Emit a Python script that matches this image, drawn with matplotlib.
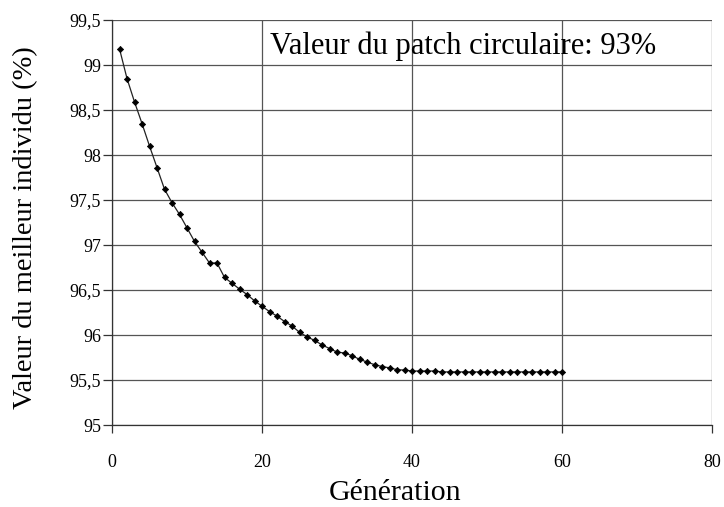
import matplotlib
matplotlib.use("Agg")
import matplotlib.pyplot as plt

generations = list(range(1, 61))
best_values = [
    99.18, 98.85, 98.59, 98.35, 98.10, 97.86, 97.62, 97.47, 97.34, 97.19,
    97.04, 96.92, 96.80, 96.80, 96.64, 96.575, 96.51, 96.45, 96.38, 96.32,
    96.26, 96.21, 96.15, 96.10, 96.03, 95.98, 95.94, 95.89, 95.85, 95.81,
    95.80, 95.77, 95.73, 95.70, 95.67, 95.65, 95.635, 95.615, 95.61, 95.60,
    95.60, 95.60, 95.60, 95.59, 95.59, 95.59, 95.59, 95.59, 95.59, 95.59,
    95.59, 95.59, 95.59, 95.59, 95.59, 95.59, 95.59, 95.59, 95.59, 95.59,
]
x_ticks = [0, 20, 40, 60, 80]
y_ticks = [95, 95.5, 96, 96.5, 97, 97.5, 98, 98.5, 99, 99.5]
y_tick_labels = ["95", "95,5", "96", "96,5", "97", "97,5", "98", "98,5", "99", "99,5"]

plt.rcParams["font.family"] = ["Liberation Serif", "DejaVu Serif"]

W, H = 724, 507
fig = plt.figure(figsize=(W / 100, H / 100), dpi=100)
ax = fig.add_axes([112 / W, 1 - 425 / H, 600 / W, 405 / H])

ax.plot(generations, best_values, color="#222222", lw=0.9,
        marker="D", markersize=3.2, markeredgewidth=0.5,
        markerfacecolor="black", markeredgecolor="black", zorder=3)

ax.set_xlim(0, 80)
ax.set_ylim(95, 99.5)
ax.set_xticks(x_ticks)
ax.set_yticks(y_ticks)
ax.set_yticklabels(y_tick_labels)
ax.grid(True, color="#555555", lw=0.9)
ax.set_axisbelow(True)

for side in ("top", "right"):
    ax.spines[side].set_visible(False)
for side in ("left", "bottom"):
    ax.spines[side].set_color("#333333")
    ax.spines[side].set_linewidth(0.9)

ax.tick_params(axis="both", direction="out", width=0.9,
               color="#333333", labelsize=13)
ax.tick_params(axis="x", length=6, pad=15)
ax.tick_params(axis="y", length=6.5, pad=1.5)

fig.text(395 / W, 1 - 500 / H, "Génération", fontsize=21.5,
         ha="center", va="baseline")
fig.text(26 / W, 1 - 228 / H, "Valeur du meilleur individu (%)", fontsize=20.5,
         ha="center", va="center", rotation=90)
fig.text(270 / W, 1 - 54 / H, "Valeur du patch circulaire: 93%", fontsize=22,
         ha="left", va="baseline")

fig.savefig("out.png", dpi=100)
